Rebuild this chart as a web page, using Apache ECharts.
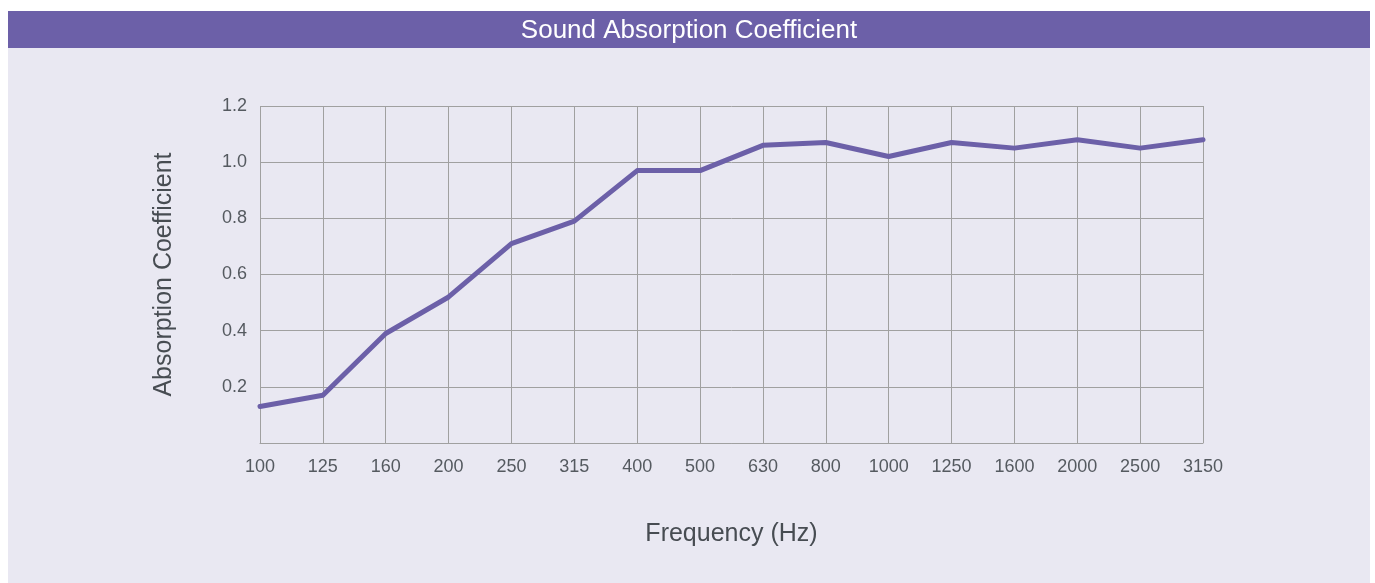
<!DOCTYPE html>
<html>
<head>
<meta charset="utf-8">
<script src="https://cdn.jsdelivr.net/npm/echarts@6/dist/echarts.min.js"></script>
<style>
html,body{margin:0;padding:0;background:#ffffff;}
#c{width:1375px;height:583px;}
</style>
</head>
<body>
<div id="c"></div>
<script>
const titleText = 'Sound Absorption Coefficient';
const frequencies = ['100','125','160','200','250','315','400','500','630','800','1000','1250','1600','2000','2500','3150'];
const coefficients = [0.13,0.17,0.39,0.52,0.71,0.79,0.97,0.97,1.06,1.07,1.02,1.07,1.05,1.08,1.05,1.08];
const yTicks = [0, 0.2, 0.4, 0.6, 0.8, 1.0, 1.2];

const chart = echarts.init(document.getElementById('c'));
const font = '"Liberation Sans", Arial, Helvetica, sans-serif';
chart.setOption({
  backgroundColor: '#ffffff',
  animation: false,
  textStyle: { fontFamily: font },
  graphic: [
    { type: 'rect', z: -10, shape: { x: 8, y: 11, width: 1362, height: 572 }, style: { fill: '#e9e8f2' } },
    { type: 'rect', z: -9, shape: { x: 8, y: 11, width: 1362, height: 37 }, style: { fill: '#6c60a8' } },
    { type: 'text', z: 10, x: 689, y: 31, style: { text: titleText, fill: '#ffffff', font: '26px ' + font, align: 'center', verticalAlign: 'middle' } }
  ],
  grid: { left: 260, top: 106, width: 943, height: 337, containLabel: false },
  xAxis: {
    type: 'category',
    data: frequencies,
    boundaryGap: false,
    name: 'Frequency (Hz)',
    nameLocation: 'middle',
    nameGap: 79,
    nameTextStyle: { fontSize: 25, color: '#474c52', fontFamily: font },
    axisLine: { show: true, lineStyle: { color: '#a0a0a0', width: 1 } },
    axisTick: { show: false },
    axisLabel: { color: '#555a60', fontSize: 18, margin: 15, fontFamily: font },
    splitLine: { show: true, lineStyle: { color: '#a0a0a0', width: 1 } }
  },
  yAxis: {
    type: 'value',
    min: yTicks[0],
    max: yTicks[yTicks.length - 1],
    interval: 0.2,
    name: 'Absorption Coefficient',
    nameLocation: 'middle',
    nameGap: 83,
    nameTextStyle: { fontSize: 25, color: '#474c52', fontFamily: font },
    axisLine: { show: false },
    axisTick: { show: false },
    axisLabel: { color: '#555a60', fontSize: 18, margin: 13, fontFamily: font,
      formatter: v => (Math.abs(v) < 1e-9 ? '' : v.toFixed(1)) },
    splitLine: { show: true, lineStyle: { color: '#a0a0a0', width: 1 } }
  },
  series: [{
    type: 'line',
    data: coefficients,
    symbol: 'none',
    smooth: false,
    lineStyle: { color: '#6c60a8', width: 5, cap: 'round', join: 'round' }
  }]
});
</script>
</body>
</html>
